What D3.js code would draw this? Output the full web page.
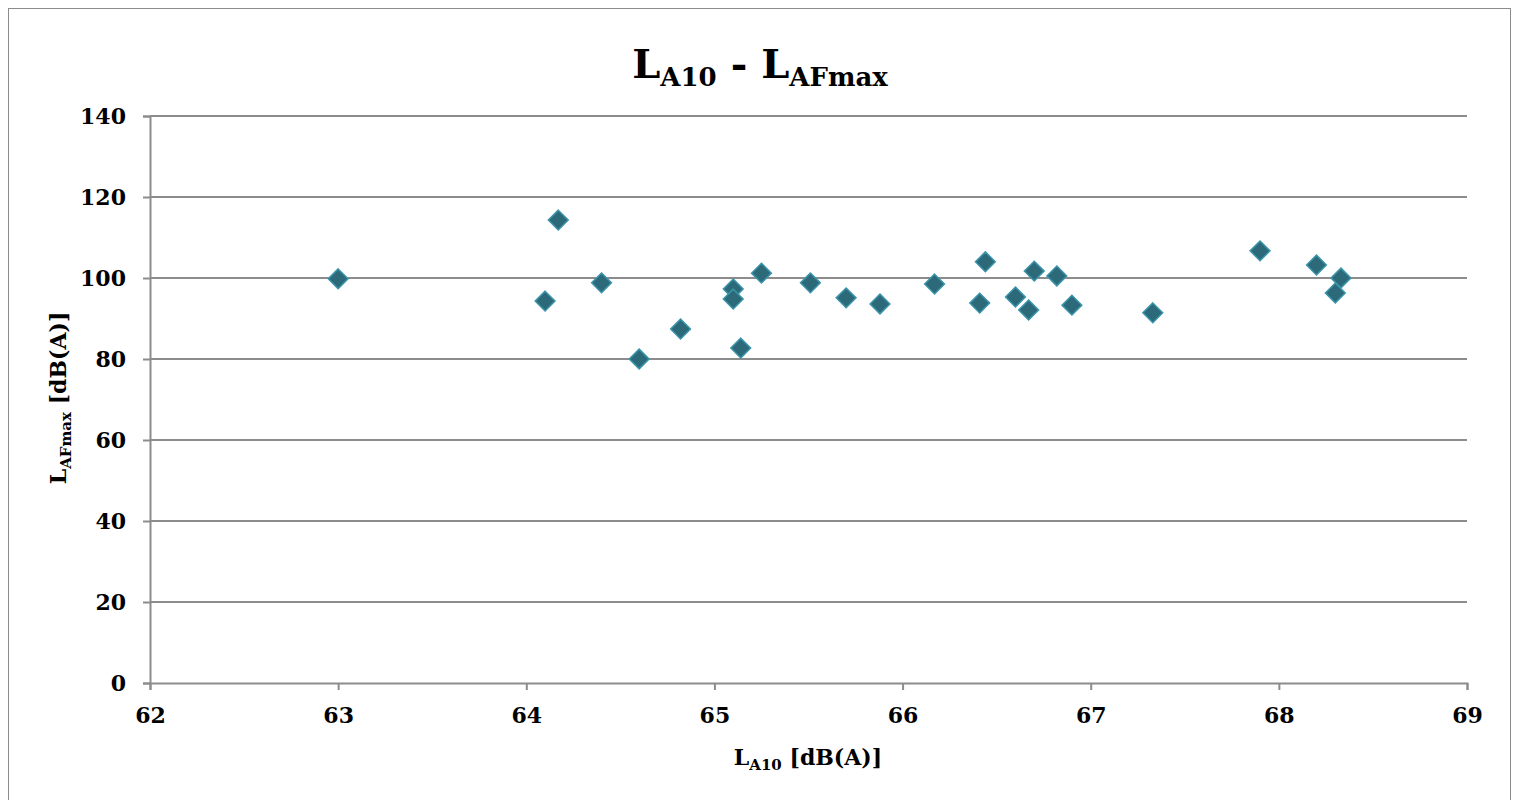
<!DOCTYPE html>
<html>
<head>
<meta charset="utf-8">
<script src="https://cdn.jsdelivr.net/npm/d3@7"></script>
<style>
  body { margin: 0; background: #fff; }
  text { font-family: "DejaVu Serif", serif; font-weight: bold; fill: #000; }
</style>
</head>
<body>
<svg id="chart"></svg>
<script>
// L_A10 values (x) and L_AFmax values (y)
let la10 = [63.0, 64.1, 64.17, 64.4, 64.6, 64.82, 65.1, 65.1, 65.14, 65.25, 65.51, 65.7, 65.88,
  66.17, 66.41, 66.44, 66.6, 66.67, 66.7, 66.82, 66.9, 67.33, 67.9, 68.2, 68.3, 68.33];
let lafmax = [99.8, 94.3, 114.3, 98.8, 80.0, 87.4, 97.3, 94.8, 82.7, 101.2, 98.8, 95.1, 93.6,
  98.5, 93.8, 104.0, 95.3, 92.1, 101.7, 100.5, 93.3, 91.4, 106.7, 103.2, 96.3, 100.0];
let xTicks = [62, 63, 64, 65, 66, 67, 68, 69];
let yTicks = [0, 20, 40, 60, 80, 100, 120, 140];

let width = 1516, height = 800;
let margin = {left: 150, right: 49, top: 116, bottom: 117};

let svg = d3.select('#chart').attr('width', width).attr('height', height);

// outer chart frame
svg.append('rect')
  .attr('x', 8.5).attr('y', 8.5)
  .attr('width', 1502).attr('height', 800)
  .attr('fill', 'none').attr('stroke', '#8c8c8c').attr('stroke-width', 1);

let x = d3.scaleLinear().domain([62, 69]).range([margin.left, width - margin.right]);
let y = d3.scaleLinear().domain([0, 140]).range([height - margin.bottom, margin.top]);

// gridlines
svg.append('g').selectAll('line')
  .data(yTicks.filter(d => d > 0))
  .enter().append('line')
  .attr('x1', x(62)).attr('x2', x(69))
  .attr('y1', d => y(d)).attr('y2', d => y(d))
  .attr('stroke', '#8c8c8c').attr('stroke-width', 2);

// y axis
let yAxis = svg.append('g')
  .attr('transform', 'translate(' + x(62) + ',0)')
  .call(d3.axisLeft(y).tickValues(yTicks).tickSize(7).tickPadding(17).tickFormat(d3.format('d')));
// x axis
let xAxis = svg.append('g')
  .attr('transform', 'translate(0,' + y(0) + ')')
  .call(d3.axisBottom(x).tickValues(xTicks).tickSize(7).tickPadding(17).tickFormat(d3.format('d')));

[xAxis, yAxis].forEach(a => {
  a.select('.domain').attr('stroke', '#8c8c8c').attr('stroke-width', 2);
  a.selectAll('.tick line').attr('stroke', '#8c8c8c').attr('stroke-width', 2);
  a.selectAll('.tick text')
    .style('font-family', '"DejaVu Serif", serif')
    .style('font-weight', 'bold')
    .style('font-size', '22px')
    .attr('fill', '#000');
});

// points (diamond markers)
let diamond = d3.symbol().type(d3.symbolDiamond2).size(250);
svg.append('g').selectAll('path')
  .data(la10)
  .enter().append('path')
  .attr('d', diamond)
  .attr('transform', (d, i) => 'translate(' + x(d) + ',' + y(lafmax[i]) + ')')
  .attr('fill', '#2c6a79')
  .attr('stroke', '#3b94aa')
  .attr('stroke-width', 1.5);

// title
let title = svg.append('text')
  .attr('x', 760).attr('y', 78)
  .attr('text-anchor', 'middle')
  .style('font-size', '40px');
title.append('tspan').text('L');
title.append('tspan').attr('dy', 8).style('font-size', '26px').text('A10');
title.append('tspan').attr('dy', -8).text(' - L');
title.append('tspan').attr('dy', 8).style('font-size', '26px').text('AFmax');

// x label
let xl = svg.append('text')
  .attr('x', 808).attr('y', 765)
  .attr('text-anchor', 'middle')
  .style('font-size', '22px');
xl.append('tspan').text('L');
xl.append('tspan').attr('dy', 5).style('font-size', '15px').text('A10');
xl.append('tspan').attr('dy', -5).text(' [dB(A)]');

// y label
let yl = svg.append('text')
  .attr('transform', 'translate(66,398) rotate(-90)')
  .attr('text-anchor', 'middle')
  .style('font-size', '22px');
yl.append('tspan').text('L');
yl.append('tspan').attr('dy', 5).style('font-size', '15px').text('AFmax');
yl.append('tspan').attr('dy', -5).text(' [dB(A)]');
</script>
</body>
</html>
